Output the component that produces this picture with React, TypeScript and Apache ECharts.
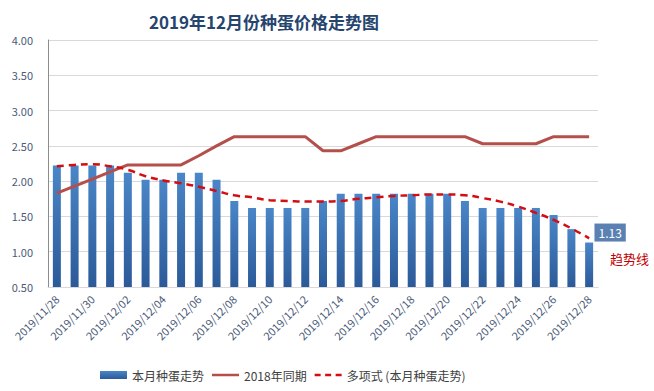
import React, { useEffect, useRef } from "react";
import * as echarts from "echarts";

const categories = [
  "2019/11/28", "2019/11/29", "2019/11/30", "2019/12/01", "2019/12/02", "2019/12/03",
  "2019/12/04", "2019/12/05", "2019/12/06", "2019/12/07", "2019/12/08", "2019/12/09",
  "2019/12/10", "2019/12/11", "2019/12/12", "2019/12/13", "2019/12/14", "2019/12/15",
  "2019/12/16", "2019/12/17", "2019/12/18", "2019/12/19", "2019/12/20", "2019/12/21",
  "2019/12/22", "2019/12/23", "2019/12/24", "2019/12/25", "2019/12/26", "2019/12/27",
  "2019/12/28",
];

const thisMonth = [
  2.22, 2.22, 2.22, 2.22, 2.12, 2.02, 2.02, 2.12, 2.12, 2.02, 1.72, 1.62, 1.62, 1.62,
  1.62, 1.72, 1.82, 1.82, 1.82, 1.82, 1.82, 1.82, 1.82, 1.72, 1.62, 1.62, 1.62, 1.62,
  1.52, 1.32, 1.13,
];

const lastYear = [
  1.83, 1.93, 2.03, 2.13, 2.23, 2.23, 2.23, 2.23, 2.36, 2.5, 2.63, 2.63, 2.63, 2.63,
  2.63, 2.43, 2.43, 2.53, 2.63, 2.63, 2.63, 2.63, 2.63, 2.63, 2.53, 2.53, 2.53, 2.53,
  2.63, 2.63, 2.63,
];

const trend = [
  2.21, 2.23, 2.24, 2.21, 2.16, 2.07, 2.01, 1.97, 1.92, 1.86, 1.8, 1.77, 1.73, 1.72,
  1.71, 1.71, 1.72, 1.75, 1.77, 1.79, 1.8, 1.81, 1.81, 1.8, 1.76, 1.71, 1.64, 1.55,
  1.45, 1.33, 1.19,
];

const seriesNames = ["本月种蛋走势", "2018年同期", "多项式 (本月种蛋走势)"];
const titleText = "2019年12月份种蛋价格走势图";
const trendNote = "趋势线";

const FONT = "'Noto Sans CJK SC', 'Noto Sans', sans-serif";

const solidIcon = "path://M0,0 L27,0 L27,2.5 L0,2.5 Z";
const dashIcon =
  "path://M0,0 L6,0 L6,2.5 L0,2.5 Z M10.5,0 L16.5,0 L16.5,2.5 L10.5,2.5 Z M21,0 L27,0 L27,2.5 L21,2.5 Z";

export default function App() {
  const ref = useRef<HTMLDivElement>(null);
  useEffect(() => {
    if (!ref.current) return;
    const chart = echarts.init(ref.current, undefined, { renderer: "svg" });
    const lastIdx = thisMonth.length - 1;
    chart.setOption({
      animation: false,
      backgroundColor: "#ffffff",
      textStyle: { fontFamily: FONT },
      title: {
        text: titleText,
        left: 259,
        textAlign: "center",
        top: 8,
        textStyle: { fontSize: 17, fontWeight: "bold", color: "#26456e", fontFamily: FONT },
      },
      grid: { left: 48, right: 56, top: 40, bottom: 104, containLabel: false },
      legend: {
        left: 95,
        top: 364,
        itemGap: 8,
        itemWidth: 27,
        itemHeight: 8,
        textStyle: { fontSize: 12, color: "#404040", fontFamily: FONT },
        data: [
          { name: seriesNames[0], icon: "rect" },
          { name: seriesNames[1], icon: solidIcon, itemStyle: { color: "#b4504c" } },
          { name: seriesNames[2], icon: dashIcon, itemStyle: { color: "#d40d12" } },
        ],
      },
      xAxis: {
        type: "category",
        data: categories,
        boundaryGap: true,
        axisLine: { show: true, lineStyle: { color: "#d9d9d9" } },
        axisTick: { show: false },
        axisLabel: {
          interval: 1,
          rotate: 45,
          margin: 10,
          fontSize: 11,
          color: "#4a5a78",
          fontFamily: FONT,
        },
      },
      yAxis: {
        type: "value",
        min: 0.5,
        max: 4,
        interval: 0.5,
        axisLine: { show: true, lineStyle: { color: "#8c8c8c" } },
        axisTick: { show: false },
        splitLine: { lineStyle: { color: "#d9d9d9" } },
        axisLabel: {
          margin: 15,
          fontSize: 11,
          color: "#4a5a78",
          formatter: (v: number) => v.toFixed(2),
        },
      },
      series: [
        {
          name: seriesNames[0],
          type: "bar",
          barWidth: 8,
          itemStyle: {
            color: new echarts.graphic.LinearGradient(0, 0, 0, 1, [
              { offset: 0, color: "#4a86c8" },
              { offset: 1, color: "#2c5a98" },
            ]),
          },
          data: thisMonth.map((v, i) =>
            i === lastIdx
              ? {
                  value: v,
                  label: {
                    show: true,
                    position: "top",
                    offset: [21, 4],
                    formatter: "{c}",
                    color: "#ffffff",
                    fontSize: 12,
                    backgroundColor: "#5b80b2",
                    padding: [3, 4, 3, 4],
                  },
                }
              : v
          ),
          z: 1,
        },
        {
          name: seriesNames[1],
          type: "line",
          data: lastYear,
          symbol: "none",
          lineStyle: { color: "#b4504c", width: 3 },
          itemStyle: { color: "#b4504c" },
          z: 3,
        },
        {
          name: seriesNames[2],
          type: "line",
          data: trend,
          smooth: true,
          symbol: "none",
          lineStyle: { color: "#d40d12", width: 2.5, type: [7, 5] },
          itemStyle: { color: "#d40d12" },
          z: 4,
        },
      ],
      graphic: [
        {
          type: "text",
          left: 610,
          top: 252,
          style: { text: trendNote, fill: "#c00000", fontSize: 13, fontFamily: FONT },
        },
      ],
    });
    return () => chart.dispose();
  }, []);
  return (
    <div
      ref={ref}
      style={{ position: "fixed", left: 0, top: 0, width: 654, height: 391 }}
    />
  );
}
